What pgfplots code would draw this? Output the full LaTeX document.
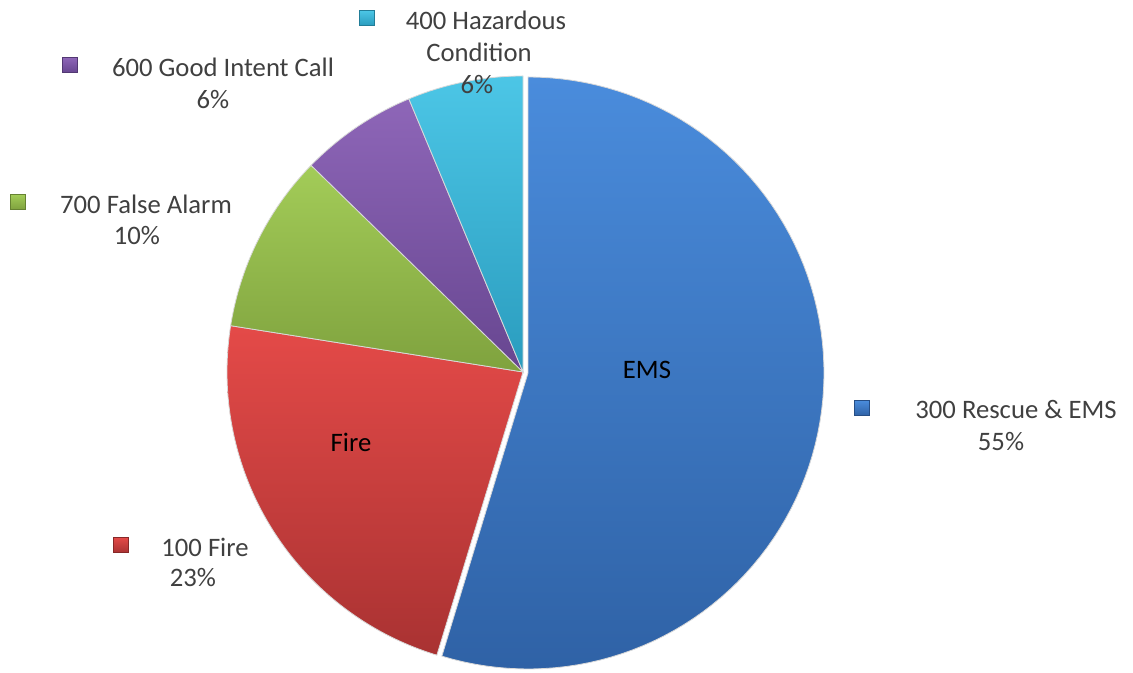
\documentclass[border=0pt]{standalone}
\usepackage{pgfplots}
\pgfplotsset{compat=1.18}
\usepackage{fontspec}
\setmainfont{Carlito}
\definecolor{txt}{HTML}{404040}
\definecolor{bluT}{HTML}{4A8CDC}\definecolor{bluB}{HTML}{2F62A6}
\definecolor{redT}{HTML}{E44A48}\definecolor{redB}{HTML}{A93232}
\definecolor{grnT}{HTML}{A3CC58}\definecolor{grnB}{HTML}{7FA23E}
\definecolor{purT}{HTML}{8E66B8}\definecolor{purB}{HTML}{674690}
\definecolor{cyaT}{HTML}{4CC6E6}\definecolor{cyaB}{HTML}{2A9CBE}
% data (percent)
\def\vEMS{54.7}\def\vFire{22.8}\def\vFalse{9.8}\def\vGood{6.4}\def\vHaz{6.3}
\pgfmathsetmacro\aA{0}
\pgfmathsetmacro\aB{\aA+3.6*\vEMS}
\pgfmathsetmacro\aC{\aB+3.6*\vFire}
\pgfmathsetmacro\aD{\aC+3.6*\vFalse}
\pgfmathsetmacro\aE{\aD+3.6*\vGood}
\pgfmathsetmacro\aF{\aE+3.6*\vHaz}
\def\R{296}
\newcommand\slice[6]{%
  \shade[top color=#5, bottom color=#6, draw=white!70!gray, line width=0.6pt]
    (axis cs:#3,#4) -- plot[domain=#1:#2, samples=90, variable=\t]
    ({#3+\R*sin(\t)},{#4+\R*cos(\t)}) -- cycle;}
\newcommand\mk[4]{%
  \shade[top color=#3, bottom color=#4, draw=#4!80!black, line width=0.3pt]
    (axis cs:#1-7.5,#2-7.5) rectangle (axis cs:#1+7.5,#2+7.5);}
\begin{document}
\begin{tikzpicture}
\begin{axis}[hide axis, clip=false, scale only axis,
  width=849.75pt, height=504.75pt,
  xmin=0, xmax=1133, ymin=0, ymax=673]
\path (axis cs:0,0) rectangle (axis cs:1133,673);
\slice{\aA}{\aB}{528}{300}{bluT}{bluB}
\slice{\aB}{\aC}{523}{301}{redT}{redB}
\slice{\aC}{\aD}{523}{301}{grnT}{grnB}
\slice{\aD}{\aE}{523}{301}{purT}{purB}
\slice{\aE}{\aF}{523}{301}{cyaT}{cyaB}
\tikzset{lab/.style={font=\fontsize{20}{24}\selectfont, text=txt, inner sep=0pt}}
\node[lab] at (axis cs:1016,263) {300 Rescue \& EMS};
\node[lab] at (axis cs:1001,231) {55\%};
\mk{862}{265}{bluT}{bluB}
\node[lab] at (axis cs:205,126) {100 Fire};
\node[lab] at (axis cs:193,95) {23\%};
\mk{121}{128}{redT}{redB}
\node[lab] at (axis cs:146,469) {700 False Alarm};
\node[lab] at (axis cs:137,437) {10\%};
\mk{18}{471}{grnT}{grnB}
\node[lab] at (axis cs:223,606) {600 Good Intent Call};
\node[lab] at (axis cs:213,573) {6\%};
\mk{70}{608}{purT}{purB}
\node[lab] at (axis cs:486,653) {400 Hazardous};
\node[lab] at (axis cs:479,621) {Condition};
\node[lab] at (axis cs:477,588) {6\%};
\mk{367}{655}{cyaT}{cyaB}
\node[lab, text=black] at (axis cs:647,303) {EMS};
\node[lab, text=black] at (axis cs:351,231) {Fire};
\end{axis}
\end{tikzpicture}
\end{document}
